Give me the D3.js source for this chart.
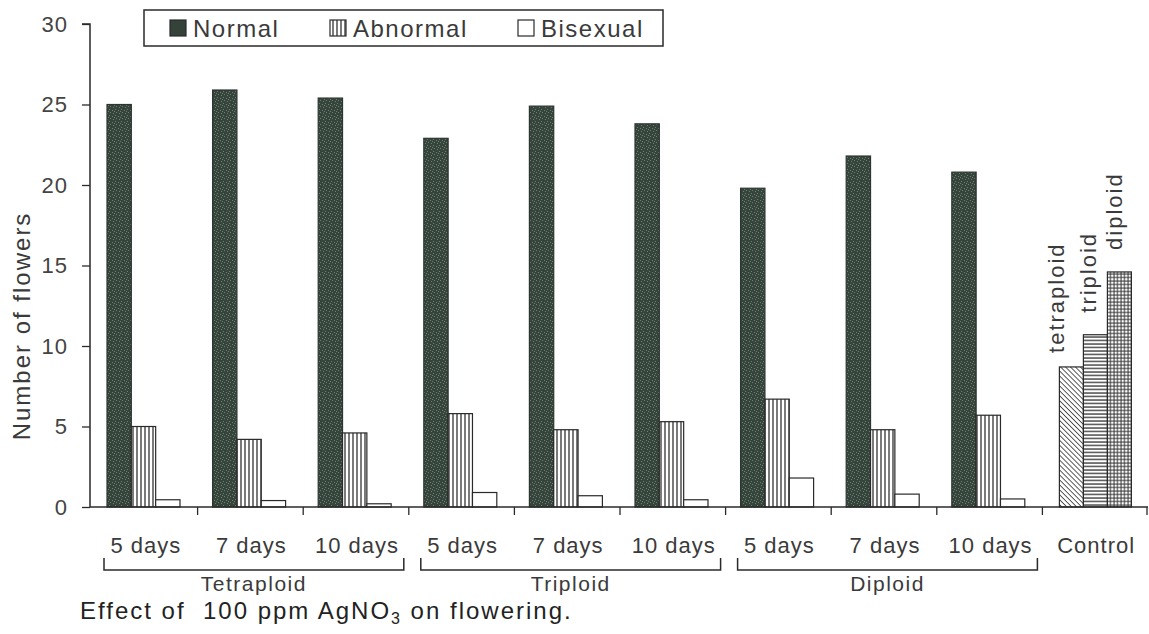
<!DOCTYPE html>
<html>
<head>
<meta charset="utf-8">
<script src="https://cdn.jsdelivr.net/npm/d3@7"></script>
<style>
  body { margin: 0; background: #fff; }
  svg { display: block; font-family: "Liberation Sans", Arial, sans-serif; }
</style>
</head>
<body>
<div id="chart"></div>
<script>
// categories along the x axis
var categories = ["T5", "T7", "T10", "P5", "P7", "P10", "D5", "D7", "D10", "Control"];
var catLabels = ["5 days", "7 days", "10 days", "5 days", "7 days", "10 days", "5 days", "7 days", "10 days", "Control"];
var groups = [
  { name: "Tetraploid", from: "T5", to: "T10" },
  { name: "Triploid", from: "P5", to: "P10" },
  { name: "Diploid", from: "D5", to: "D10" }
];
var series = ["Normal", "Abnormal", "Bisexual"];
// values for the 9 treatment categories
var normal   = [25.0, 25.9, 25.4, 22.9, 24.9, 23.8, 19.8, 21.8, 20.8];
var abnormal = [5.0, 4.2, 4.6, 5.8, 4.8, 5.3, 6.7, 4.8, 5.7];
var bisexual = [0.45, 0.4, 0.2, 0.9, 0.7, 0.45, 1.8, 0.8, 0.5];
// control bars
var controlNames = ["tetraploid", "triploid", "diploid"];
var controlValues = [8.7, 10.7, 14.6];
var yTicks = [0, 5, 10, 15, 20, 25, 30];

var width = 1149, height = 634;
var svg = d3.select("#chart").append("svg")
  .attr("width", width)
  .attr("height", height);

var defs = svg.append("defs");

// speckled dark fill for "Normal"
var pn = defs.append("pattern").attr("id", "pNormal")
  .attr("patternUnits", "userSpaceOnUse").attr("width", 6).attr("height", 6);
pn.append("rect").attr("width", 6).attr("height", 6).attr("fill", "#36453c");
[[1, 1], [4, 2], [2, 4], [5, 5], [0, 3]].forEach(function(p) {
  pn.append("rect").attr("x", p[0]).attr("y", p[1]).attr("width", 1).attr("height", 1).attr("fill", "#717f75");
});

// vertical stripes for "Abnormal"
var pa = defs.append("pattern").attr("id", "pAbn")
  .attr("patternUnits", "userSpaceOnUse").attr("width", 4).attr("height", 4);
pa.append("rect").attr("width", 4).attr("height", 4).attr("fill", "#fff");
pa.append("line").attr("x1", 1).attr("x2", 1).attr("y1", 0).attr("y2", 4)
  .attr("stroke", "#222").attr("stroke-width", 1.2);

// diagonal hatch
var pd = defs.append("pattern").attr("id", "pDiag")
  .attr("patternUnits", "userSpaceOnUse").attr("width", 3.5).attr("height", 3.5)
  .attr("patternTransform", "rotate(-45)");
pd.append("rect").attr("width", 3.5).attr("height", 3.5).attr("fill", "#fff");
pd.append("line").attr("x1", 0).attr("x2", 0).attr("y1", 0).attr("y2", 3.5)
  .attr("stroke", "#333").attr("stroke-width", 1.6);

// horizontal lines
var ph = defs.append("pattern").attr("id", "pHor")
  .attr("patternUnits", "userSpaceOnUse").attr("width", 4).attr("height", 3.5);
ph.append("rect").attr("width", 4).attr("height", 3.5).attr("fill", "#fff");
ph.append("line").attr("x1", 0).attr("x2", 4).attr("y1", 1).attr("y2", 1)
  .attr("stroke", "#333").attr("stroke-width", 1.3);

// grid
var pg = defs.append("pattern").attr("id", "pGrid")
  .attr("patternUnits", "userSpaceOnUse").attr("width", 3.5).attr("height", 3.5);
pg.append("rect").attr("width", 3.5).attr("height", 3.5).attr("fill", "#fff");
pg.append("line").attr("x1", 0).attr("x2", 3.5).attr("y1", 1).attr("y2", 1)
  .attr("stroke", "#333").attr("stroke-width", 1);
pg.append("line").attr("x1", 1).attr("x2", 1).attr("y1", 0).attr("y2", 3.5)
  .attr("stroke", "#333").attr("stroke-width", 1);

var seriesFill = { "Normal": "url(#pNormal)", "Abnormal": "url(#pAbn)", "Bisexual": "#fff" };
var controlFill = ["url(#pDiag)", "url(#pHor)", "url(#pGrid)"];

var x = d3.scaleBand().domain(categories).range([92, 1148]).padding(0);
var xInner = d3.scaleBand().domain(series).range([15, 88]).padding(0);
var y = d3.scaleLinear().domain([0, 30]).range([507, 24]);

// table built from the arrays
var rows = categories.slice(0, 9).map(function(c, i) {
  return { cat: c, Normal: normal[i], Abnormal: abnormal[i], Bisexual: bisexual[i] };
});

var ink = "#2a2a2a";
var textCol = "#3a3a3a";

// bars
var bars = svg.append("g");
rows.forEach(function(r) {
  bars.selectAll(null)
    .data(series)
    .enter()
    .append("rect")
    .attr("x", s => x(r.cat) + xInner(s))
    .attr("y", s => y(r[s]))
    .attr("width", xInner.bandwidth())
    .attr("height", s => y(0) - y(r[s]))
    .attr("fill", s => seriesFill[s])
    .attr("stroke", s => s === "Normal" ? "#2c3631" : ink)
    .attr("stroke-width", 1.2);
});

// control bars
var xCtrl = d3.scaleBand().domain(controlNames).range([17, 89]).padding(0);
// label nudges (left shift, gap above bar)
var ctrlShift = [-15, -7, -5], ctrlGap = [14, 22, 22];
var ctrl = svg.append("g");
ctrl.selectAll("rect")
  .data(controlNames)
  .enter()
  .append("rect")
  .attr("x", (d, i) => x("Control") + xCtrl(d))
  .attr("y", (d, i) => y(controlValues[i]))
  .attr("width", xCtrl.bandwidth())
  .attr("height", (d, i) => y(0) - y(controlValues[i]))
  .attr("fill", (d, i) => controlFill[i])
  .attr("stroke", ink)
  .attr("stroke-width", 1.2);

ctrl.selectAll("text")
  .data(controlNames)
  .enter()
  .append("text")
  .attr("transform", (d, i) => "translate(" + (x("Control") + xCtrl(d) + xCtrl.bandwidth() / 2 + ctrlShift[i]) + "," + (y(controlValues[i]) - ctrlGap[i]) + ") rotate(-90)")
  .attr("dy", "0.35em")
  .attr("font-size", 22)
  .attr("letter-spacing", 2)
  .attr("fill", textCol)
  .text(d => d);

// y axis
var yAxis = svg.append("g").attr("transform", "translate(90,0)")
  .call(d3.axisLeft(y).tickValues(yTicks).tickSize(8).tickPadding(14));
yAxis.select(".domain").attr("stroke", ink).attr("stroke-width", 1.5)
  .attr("d", "M-8," + y(30) + "H0V" + y(0));
yAxis.selectAll(".tick line").attr("stroke", ink).attr("stroke-width", 1.3);
yAxis.selectAll(".tick text").attr("font-size", 22).attr("fill", "#444")
  .attr("letter-spacing", 1)
  .attr("font-family", "Liberation Sans, Arial, sans-serif");

// x axis: line plus ticks at band boundaries
var xg = svg.append("g");
xg.append("line").attr("x1", 90).attr("x2", 1148).attr("y1", y(0)).attr("y2", y(0))
  .attr("stroke", ink).attr("stroke-width", 1.5);
xg.selectAll(".xt")
  .data(categories.slice(1).concat(["end"]))
  .enter()
  .append("line")
  .attr("x1", d => d === "end" ? 1147 : x(d))
  .attr("x2", d => d === "end" ? 1147 : x(d))
  .attr("y1", y(0))
  .attr("y2", y(0) + 8)
  .attr("stroke", ink).attr("stroke-width", 1.3);

xg.selectAll(".xl")
  .data(categories)
  .enter()
  .append("text")
  .attr("x", d => x(d) + x.bandwidth() / 2 + 1)
  .attr("y", 553)
  .attr("text-anchor", "middle")
  .attr("font-size", 22)
  .attr("letter-spacing", 1)
  .attr("fill", textCol)
  .text((d, i) => catLabels[i]);

// brackets for groups
var br = svg.append("g");
groups.forEach(function(g) {
  var x0 = x(g.from) + 12, x1 = x(g.to) + x.bandwidth() - 5;
  br.append("path")
    .attr("d", "M" + x0 + ",558V570H" + x1 + "V558")
    .attr("fill", "none").attr("stroke", ink).attr("stroke-width", 1.5);
  br.append("text")
    .attr("x", (x0 + x1) / 2)
    .attr("y", 591)
    .attr("text-anchor", "middle")
    .attr("font-size", 21)
    .attr("letter-spacing", 1.5)
    .attr("fill", textCol)
    .text(g.name);
});

// y label
svg.append("text")
  .attr("transform", "translate(22,326) rotate(-90)")
  .attr("text-anchor", "middle")
  .attr("dy", "0.35em")
  .attr("font-size", 24)
  .attr("letter-spacing", 2)
  .attr("fill", textCol)
  .text("Number of flowers");

// caption
var cap = svg.append("text")
  .attr("x", 80).attr("y", 619)
  .attr("font-size", 24)
  .attr("letter-spacing", 2)
  .attr("fill", "#222")
  .attr("xml:space", "preserve");
cap.append("tspan").text("Effect of  100 ppm AgNO");
cap.append("tspan").attr("font-size", 16).attr("dy", 5).text("3");
cap.append("tspan").attr("dy", -5).text(" on flowering.");

// legend
var lg = svg.append("g");
lg.append("rect").attr("x", 144).attr("y", 10).attr("width", 519).attr("height", 36)
  .attr("fill", "#fff").attr("stroke", ink).attr("stroke-width", 1.5);
var legendX = [170, 330, 518];
var legendFill = ["#34423a", "url(#pAbn)", "#fff"];
series.forEach(function(s, i) {
  lg.append("rect").attr("x", legendX[i]).attr("y", 20).attr("width", 16).attr("height", 16)
    .attr("fill", legendFill[i]).attr("stroke", ink).attr("stroke-width", 1.2);
  lg.append("text").attr("x", legendX[i] + 23).attr("y", 37)
    .attr("font-size", 24).attr("letter-spacing", 1.5)
    .attr("fill", textCol).text(s);
});
</script>
</body>
</html>
